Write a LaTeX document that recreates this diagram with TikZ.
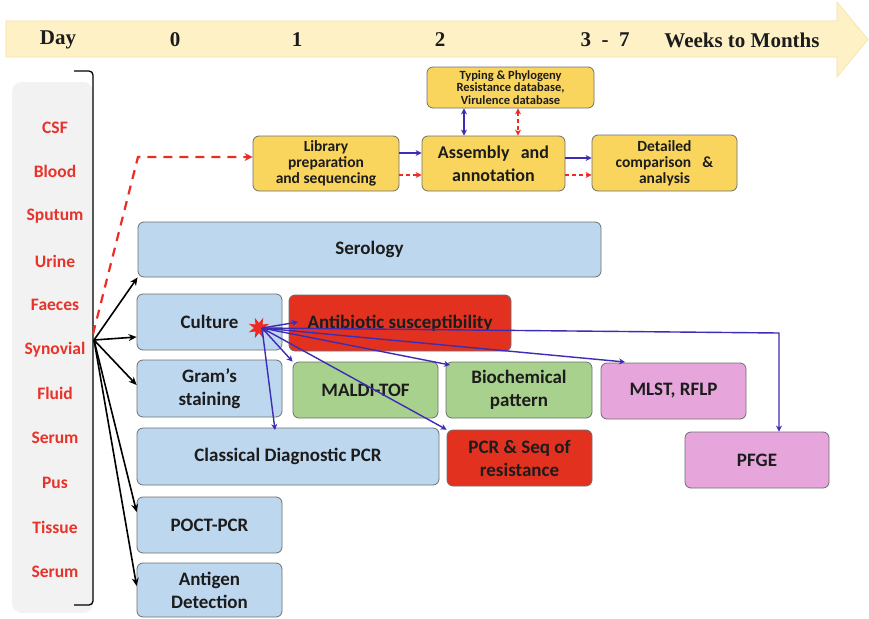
\documentclass[tikz,border=0pt]{standalone}
\usepackage{fontspec}
\setmainfont{Carlito}
\newfontfamily\tlfont{Liberation Serif}
\usetikzlibrary{arrows.meta,shapes.geometric,calc}
\definecolor{bandfill}{HTML}{FEF1C6}
\definecolor{bandline}{HTML}{F3E2A6}
\definecolor{ybox}{HTML}{F9D55E}
\definecolor{bbox}{HTML}{BDD7EE}
\definecolor{gbox}{HTML}{A9D18E}
\definecolor{rbox}{HTML}{E2321F}
\definecolor{pbox}{HTML}{E6A6DC}
\definecolor{edge}{HTML}{6F6F6F}
\definecolor{panel}{HTML}{F2F2F2}
\definecolor{samp}{HTML}{E8332A}
\definecolor{ablue}{HTML}{3C2DB4}
\definecolor{ared}{HTML}{EE2A24}
\definecolor{txt}{HTML}{1C1C1C}
\newcommand\myskiplim{\lineskiplimit=-20pt\relax}
\begin{document}
\begin{tikzpicture}[x=1pt,y=-1pt,
  box/.style={draw=edge, line width=0.8pt, rounded corners=6pt, align=center,
    inner sep=0pt, text=txt, font=\bfseries\fontsize{19}{23}\selectfont},
  tight/.style={font=\bfseries\fontsize{15.5}{16}\selectfont\myskiplim},
  tiny/.style={font=\bfseries\fontsize{12.5}{12.5}\selectfont\myskiplim},
  tl/.style={font=\tlfont\bfseries\fontsize{21}{21}\selectfont, text=txt},
  sl/.style={font=\bfseries\fontsize{17.5}{17}\selectfont, text=samp},
  blk/.style={draw=black, line width=1.6pt, -{Stealth[length=8pt,width=7pt]}},
  blu/.style={draw=ablue, line width=1.4pt, -{Stealth[length=6pt,width=6pt]}},
  bluboth/.style={draw=ablue, line width=1.4pt, {Stealth[length=6pt,width=6pt]}-{Stealth[length=6pt,width=6pt]}},
  rdash/.style={draw=ared, line width=1.4pt, dash pattern=on 4pt off 3pt, -{Stealth[length=6pt,width=6pt]}},
  rdashboth/.style={draw=ared, line width=1.4pt, dash pattern=on 4pt off 3pt, {Stealth[length=6pt,width=6pt]}-{Stealth[length=6pt,width=6pt]}},
]
\useasboundingbox (0,0) rectangle (869,618);
\fill[white] (0,0) rectangle (869,618);

% timeline arrow
\filldraw[fill=bandfill, draw=bandline, line width=0.6pt]
  (6,21) -- (837,21) -- (837,2) -- (868,39.5) -- (837,77) -- (837,57) -- (6,57) -- cycle;
\node[tl] (tday) at (58,40) {Day};
\node[tl] (t0) at (175,40) {0};
\node[tl] (t1) at (297,40) {1};
\node[tl] (t2) at (440,40) {2};
\node[tl] (t3) at (605,40) {3\hspace{0.5em}-\hspace{0.5em}7};
\node[tl] (tw) at (742,40) {Weeks to Months};

% sample panel
\fill[panel, rounded corners=10pt] (12,82) rectangle (93,613);
\draw[black, line width=1.3pt, rounded corners=4pt] (74,71) -- (93,71) -- (93,605) -- (74,605);
\node[sl] (s1) at (55,128) {CSF};
\node[sl] (s2) at (55,171) {Blood};
\node[sl] (s3) at (55,216) {Sputum};
\node[sl] (s4) at (55,261) {Urine};
\node[sl] (s5) at (55,305) {Faeces};
\node[sl] (s6) at (55,350) {Synovial};
\node[sl] (s7) at (55,393) {Fluid};
\node[sl] (s8) at (55,438) {Serum};
\node[sl] (s9) at (55,483) {Pus};
\node[sl] (s10) at (55,527) {Tissue};
\node[sl] (s11) at (55,572) {Serum};

% yellow boxes
\node[box, tight, fill=ybox, minimum width=146pt, minimum height=55pt] (lib) at (326,163.5) {Library\\preparation\\and sequencing};
\node[box, fill=ybox, minimum width=143pt, minimum height=55pt, font=\bfseries\fontsize{18}{23}\selectfont] (asm) at (493.5,163.5) {Assembly\hspace{0.4em} and\\annotation};
\node[box, tight, fill=ybox, minimum width=145pt, minimum height=56pt] (det) at (664.5,163) {Detailed\\comparison\hspace{0.5em} \&\\analysis};
\node[box, tiny, fill=ybox, minimum width=167pt, minimum height=41pt] (typ) at (510.5,87.5) {Typing \& Phylogeny\\Resistance database,\\Virulence database};

% blue boxes
\node[box, fill=bbox, minimum width=463pt, minimum height=55pt] (ser) at (369.5,249.5) {Serology};
\node[box, fill=bbox, minimum width=145pt, minimum height=56pt] (cul) at (209.5,322) {Culture};
\node[box, fill=bbox, minimum width=145pt, minimum height=57pt] (gra) at (209.5,388.5) {Gram’s\\staining};
\node[box, fill=bbox, minimum width=302pt, minimum height=57pt] (cls) at (288,456.5) {Classical Diagnostic PCR};
\node[box, fill=bbox, minimum width=145pt, minimum height=56pt] (poc) at (209.5,525) {POCT-PCR};
\node[box, fill=bbox, minimum width=145pt, minimum height=54pt] (ant) at (209.5,590) {Antigen\\Detection};

% red / green / pink boxes
\node[box, fill=rbox, minimum width=222pt, minimum height=56pt] (abs) at (400,323) {Antibiotic susceptibility};
\node[box, fill=gbox, minimum width=145pt, minimum height=56pt] (mal) at (365.5,390) {MALDI-TOF};
\node[box, fill=gbox, minimum width=146pt, minimum height=56pt] (bio) at (519,390) {Biochemical\\pattern};
\node[box, fill=pbox, minimum width=145pt, minimum height=56pt] (mls) at (673.5,391) {MLST, RFLP};
\node[box, fill=rbox, minimum width=145pt, minimum height=56pt] (pcs) at (519.5,458) {PCR \& Seq of\\resistance};
\node[box, fill=pbox, minimum width=144pt, minimum height=56pt] (pfg) at (757,460) {PFGE};

% sample origin and black arrows
\coordinate (org) at (94,340);
\coordinate (redstart) at (93,334);
\coordinate (redcorner) at (138,157);
\draw[blk] (org) -- (ser.south west);
\draw[blk] (org) -- (cul.west |- 0,337);
\draw[blk] (org) -- (gra.west |- 0,385);
\draw[blk] (org) -- (poc.west |- 0,512);
\draw[blk] (org) -- (ant.west |- 0,586);

% red dashed main path
\draw[draw=ared, line width=2.2pt, dash pattern=on 9pt off 7pt, -{Stealth[length=8pt,width=8pt]}]
  (redstart) -- (redcorner) -- (lib.west |- redcorner);

% pipeline arrows
\draw[blu] ($(lib.east)+(0,-10.5)$) -- ($(asm.west)+(0,-10.5)$);
\draw[rdash] ($(lib.east)+(0,11.5)$) -- ($(asm.west)+(0,11.5)$);
\draw[blu] ($(asm.east)+(0,-5.5)$) -- ($(det.west)+(0,-5)$);
\draw[rdash] ($(asm.east)+(0,11.5)$) -- ($(det.west)+(0,12)$);
\coordinate (vb) at (464,0);
\coordinate (vr) at (518,0);
\draw[bluboth] (typ.south -| vb) -- (asm.north -| vb);
\draw[rdashboth] (typ.south -| vr) -- (asm.north -| vr);

% culture star and blue arrows
\node[star, star points=8, star point ratio=0.45, fill=ared, inner sep=0pt, minimum size=10pt] (str) at (259,328) {};
\coordinate (src) at (262,328);
\coordinate (tabs) at (298,322);
\coordinate (tcls) at (275,430);
\coordinate (tbio) at (450,365);
\coordinate (tmls) at (625,362);
\coordinate (pbend) at (779,333);
\draw[blu] (src) -- (tabs);
\draw[blu] (src) -- (mal.north west);
\draw[blu] (src) -- (tcls);
\draw[blu] (src) -- (pcs.north west);
\draw[blu] (src) -- (tbio);
\draw[blu] (src) -- (tmls);
\draw[blu] (src) -- (pbend) -- (pfg.north -| pbend);
\end{tikzpicture}
\end{document}
